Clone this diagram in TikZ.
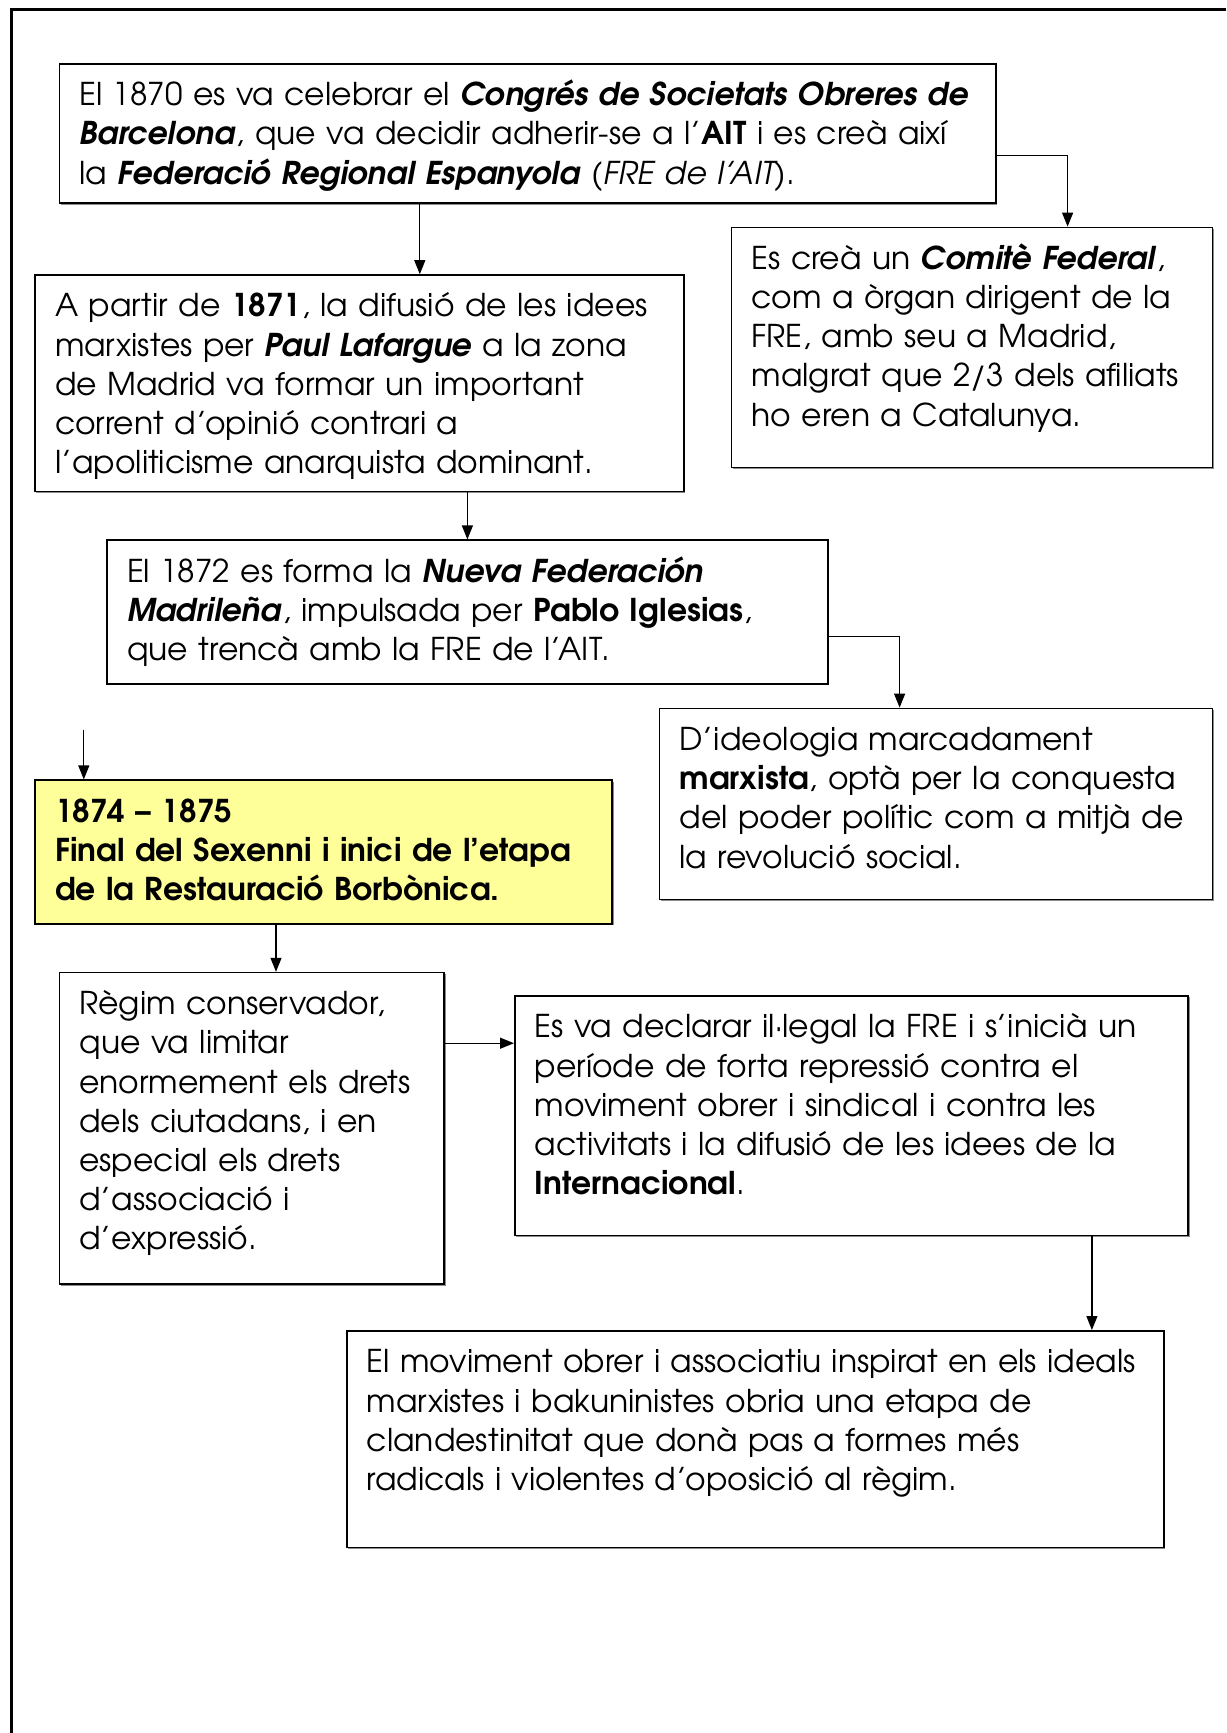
\documentclass[tikz,border=0pt]{standalone}
\usepackage{fontspec}
\setmainfont{TeX Gyre Adventor}
\usetikzlibrary{arrows.meta, positioning, calc, shadows}
\definecolor{groc}{HTML}{FFFF99}
\tikzset{
  box/.style={draw, line width=0.8pt, fill=white, anchor=north west, align=left,
    inner xsep=10pt, inner ysep=6pt, text height=15pt,
    font=\fontsize{15.7}{19.6}\selectfont,
    drop shadow={shadow xshift=0.7pt, shadow yshift=-0.7pt, fill=black!45, opacity=1}},
  yellowbox/.style={box, fill=groc},
  arr/.style={-{Triangle[length=7pt, width=5.5pt]}, line width=0.6pt},
  frame/.style={line width=1.5pt},
}

\begin{document}
\begin{tikzpicture}[x=1pt, y=-1pt]
  \useasboundingbox (0,0) rectangle (613,866.5);
  % page frame
  \draw[frame] (5.9,866.5) -- (5.9,5) -- (613,5);

  \node[box, text width=448.2pt, text depth=42.7pt] (congres) at (29.3,31.5)
    {El 1870 es va celebrar el \textbf{\textit{Congrés de Societats Obreres de}}\\
     \textbf{\textit{Barcelona}}, que va decidir adherir-se a l’\textbf{AIT} i es creà així\\
     la \textbf{\textit{Federació Regional Espanyola}} \textit{(FRE de l’AIT)}.};
  \node[box, text width=220.4pt, text depth=93pt] (comite) at (365.4,113.3)
    {Es creà un \textbf{\textit{Comitè Federal}},\\
     com a òrgan dirigent de la\\
     FRE, amb seu a Madrid,\\
     malgrat que 2/3 dels afiliats\\
     ho eren a Catalunya.};
  \node[box, text width=304.5pt, text depth=81.3pt] (partir) at (17.1,137.1)
    {A partir de \textbf{1871}, la difusió de les idees\\
     marxistes per \textbf{\textit{Paul Lafargue}} a la zona\\
     de Madrid va formar un important\\
     corrent d’opinió contrari a\\
     l’apoliticisme anarquista dominant.};
  \node[box, text width=340.4pt, text depth=44.9pt] (nueva) at (53.1,269.7)
    {El 1872 es forma la \textbf{\textit{Nueva Federación}}\\
     \textbf{\textit{Madrileña}}, impulsada per \textbf{Pablo Iglesias},\\
     que trencà amb la FRE de l’AIT.};
  \node[box, text width=256.4pt, text depth=68.6pt] (ideologia) at (329.4,353.8)
    {D’ideologia marcadament\\
     \textbf{marxista}, optà per la conquesta\\
     del poder polític com a mitjà de\\
     la revolució social.};
  \node[yellowbox, text width=268.6pt, text depth=44.9pt, font=\fontsize{15.7}{19.6}\selectfont\bfseries]
    (restauracio) at (17.1,389.7)
    {1874 – 1875\\
     Final del Sexenni i inici de l’etapa\\
     de la Restauració Borbònica.};
  \node[box, text width=172.4pt, text depth=128.8pt] (regim) at (29.3,485.9)
    {Règim conservador,\\
     que va limitar\\
     enormement els drets\\
     dels ciutadans, i en\\
     especial els drets\\
     d’associació i\\
     d’expressió.};
  \node[box, text width=316.7pt, text depth=92.9pt] (declarar) at (257.0,497.5)
    {Es va declarar il·legal la FRE i s’inicià un\\
     període de forta repressió contra el\\
     moviment obrer i sindical i contra les\\
     activitats i la difusió de les idees de la\\
     \textbf{Internacional}.};
  \node[box, text width=388.5pt, text depth=81.3pt] (moviment) at (173.0,665.0)
    {El moviment obrer i associatiu inspirat en els ideals\\
     marxistes i bakuninistes obria una etapa de\\
     clandestinitat que donà pas a formes més\\
     radicals i violentes d’oposició al règim.};

  \coordinate (inici) at ([xshift=-119.9pt, yshift=24.9pt]restauracio.north);

  \draw[arr] ([xshift=-53.9pt]congres.south) -- ([xshift=-53.9pt]congres.south |- partir.north);
  \draw[arr] ([yshift=-11pt]congres.east) -| ([xshift=47.8pt]comite.north);
  \draw[arr] (partir.south -| nueva.north) -- (nueva.north);
  \draw[arr] ([yshift=-12.2pt]nueva.east) -| ([xshift=-18.2pt]ideologia.north);
  \draw[arr] (inici) -- (inici |- restauracio.north);
  \draw[arr] ([xshift=-23.8pt]restauracio.south) -- ([xshift=-23.8pt]restauracio.south |- regim.north);
  \draw[arr] ([yshift=42.6pt]regim.east) -- ([yshift=42.6pt]regim.east -| declarar.west);
  \draw[arr] ([xshift=120.2pt]declarar.south) -- ([xshift=120.2pt]declarar.south |- moviment.north);
\end{tikzpicture}
\end{document}
